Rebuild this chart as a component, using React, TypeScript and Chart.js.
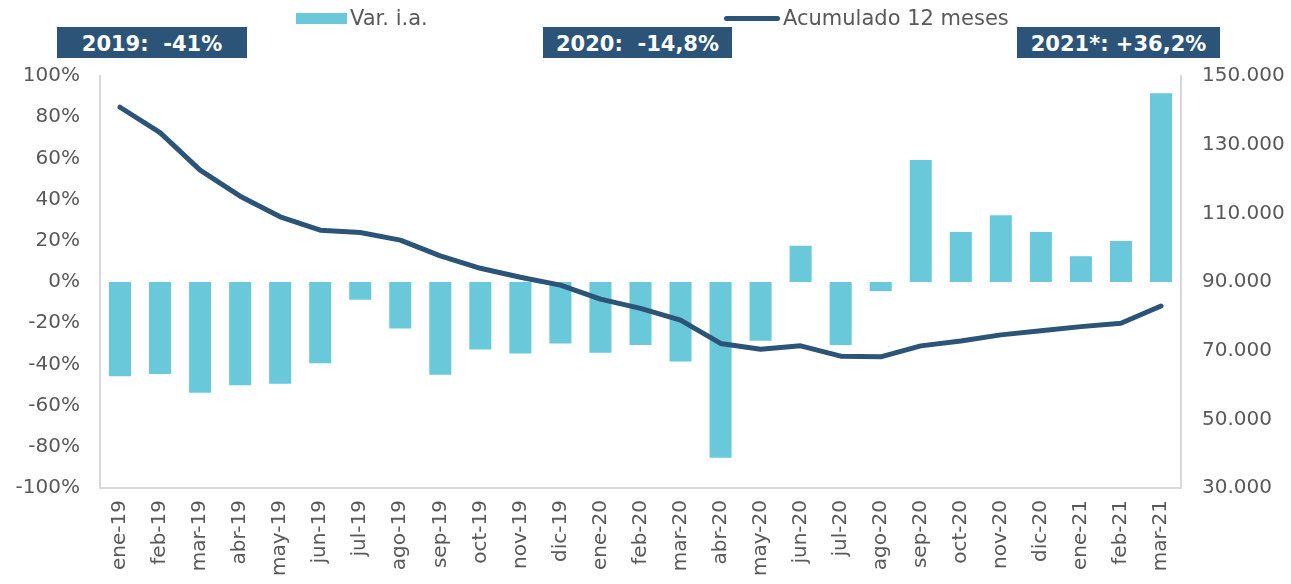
import React, { useEffect, useRef } from "react";
import { Chart, registerables } from "chart.js";

Chart.register(...registerables);

const months = [
  "ene-19", "feb-19", "mar-19", "abr-19", "may-19", "jun-19", "jul-19", "ago-19", "sep-19",
  "oct-19", "nov-19", "dic-19", "ene-20", "feb-20", "mar-20", "abr-20", "may-20", "jun-20",
  "jul-20", "ago-20", "sep-20", "oct-20", "nov-20", "dic-20", "ene-21", "feb-21", "mar-21",
];

const varIA = [
  -45.7, -44.6, -53.8, -50.1, -49.4, -39.5, -8.6, -22.6, -45.0,
  -32.8, -34.7, -29.9, -34.3, -30.6, -38.6, -85.3, -28.5, 17.6,
  -30.6, -4.4, 59.2, 24.3, 32.4, 24.3, 12.5, 19.9, 91.6,
];

const acumulado = [
  140900, 133500, 122600, 115000, 109000, 105100, 104400, 102200, 97600,
  94000, 91400, 89100, 85000, 82300, 78900, 72100, 70400, 71400,
  68400, 68200, 71400, 72800, 74600, 75800, 77000, 78000, 83000,
];

const annotations = ["2019:  -41%", "2020:  -14,8%", "2021*: +36,2%"];
const legendLabels = ["Var. i.a.", "Acumulado 12 meses"];

const BAR_COLOR = "#69C8DA";
const LINE_COLOR = "#2C5479";
const TEXT_COLOR = "#595959";
const AXIS_COLOR = "#D9D9D9";
const FONT = "'DejaVu Sans', Verdana, sans-serif";

export default function App() {
  const ref = useRef<HTMLCanvasElement | null>(null);

  useEffect(() => {
    if (!ref.current) return;
    const chart = new Chart(ref.current, {
      type: "bar",
      data: {
        labels: months,
        datasets: [
          {
            type: "line",
            label: legendLabels[1],
            data: acumulado,
            yAxisID: "y2",
            borderColor: LINE_COLOR,
            backgroundColor: LINE_COLOR,
            borderWidth: 5,
            pointRadius: 0,
            tension: 0,
            borderCapStyle: "round",
            borderJoinStyle: "round",
            order: 0,
          } as any,
          {
            type: "bar",
            label: legendLabels[0],
            data: varIA,
            yAxisID: "y",
            backgroundColor: BAR_COLOR,
            borderWidth: 0,
            categoryPercentage: 1,
            barPercentage: 0.55,
            order: 1,
          },
        ],
      },
      options: {
        responsive: false,
        animation: false,
        layout: { padding: { top: 76, left: 0, right: 0, bottom: 0 } },
        plugins: {
          legend: { display: false },
          tooltip: { enabled: false },
          title: { display: false },
        },
        scales: {
          x: {
            grid: { display: false, drawTicks: false },
            border: { display: true, color: AXIS_COLOR, width: 2 },
            ticks: {
              minRotation: 90,
              maxRotation: 90,
              autoSkip: false,
              padding: 12,
              color: TEXT_COLOR,
              font: { family: FONT, size: 20 },
            },
            afterFit: (s: any) => {
              s.height = 96;
            },
          },
          y: {
            position: "left",
            min: -100,
            max: 100,
            grid: { display: false, drawTicks: false },
            border: { display: true, color: AXIS_COLOR, width: 2 },
            ticks: {
              stepSize: 20,
              padding: 20,
              color: TEXT_COLOR,
              font: { family: FONT, size: 20 },
              callback: (v: any) => `${v}%`,
            },
            afterFit: (s: any) => {
              s.width = 100;
            },
          },
          y2: {
            position: "right",
            min: 30000,
            max: 150000,
            grid: { display: false, drawTicks: false },
            border: { display: true, color: AXIS_COLOR, width: 2 },
            ticks: {
              stepSize: 20000,
              padding: 21,
              color: TEXT_COLOR,
              font: { family: FONT, size: 20 },
              callback: (v: any) => Number(v).toLocaleString("de-DE"),
            },
            afterFit: (s: any) => {
              s.width = 110;
            },
          },
        },
      },
    });
    return () => chart.destroy();
  }, []);

  const boxStyle = (left: number, width: number): React.CSSProperties => ({
    position: "absolute",
    left,
    top: 27,
    width,
    height: 31,
    background: LINE_COLOR,
    color: "#FFFFFF",
    fontFamily: FONT,
    fontWeight: "bold",
    fontSize: 21,
    lineHeight: "31px",
    textAlign: "center",
    whiteSpace: "pre",
    paddingTop: 2,
    boxSizing: "border-box",
  });

  const legendText: React.CSSProperties = {
    position: "absolute",
    top: 6,
    fontFamily: FONT,
    fontSize: 21,
    lineHeight: "24px",
    color: TEXT_COLOR,
    whiteSpace: "pre",
  };

  return (
    <div
      style={{
        position: "absolute",
        left: 0,
        top: 0,
        width: 1291,
        height: 584,
        background: "#FFFFFF",
        overflow: "hidden",
      }}
    >
      <canvas ref={ref} width={1291} height={584} style={{ position: "absolute", left: 0, top: 0 }} />
      <div style={{ position: "absolute", left: 296, top: 13, width: 51, height: 11, background: BAR_COLOR }} />
      <div style={{ ...legendText, left: 350 }}>{legendLabels[0]}</div>
      <div
        style={{
          position: "absolute",
          left: 724,
          top: 16,
          width: 56,
          height: 5,
          borderRadius: 3,
          background: LINE_COLOR,
        }}
      />
      <div style={{ ...legendText, left: 783 }}>{legendLabels[1]}</div>
      <div style={boxStyle(57, 190)}>{annotations[0]}</div>
      <div style={boxStyle(543, 189)}>{annotations[1]}</div>
      <div style={boxStyle(1017, 203)}>{annotations[2]}</div>
    </div>
  );
}
